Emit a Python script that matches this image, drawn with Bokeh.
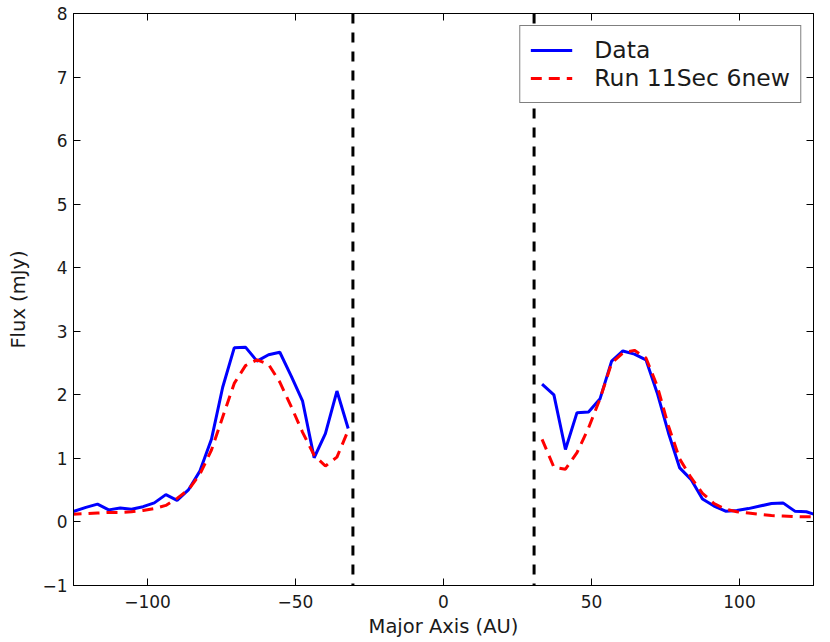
import numpy as np
from bokeh.plotting import figure
from bokeh.models import Range1d, FixedTicker, LinearAxis, Span, Legend, LegendItem
from bokeh.embed import file_html
from bokeh.resources import INLINE

# ---- data ----
x_left = [-126.0, -120.8, -116.9, -113.1, -109.2, -105.4, -101.5, -97.7, -93.8, -90.0,
          -86.1, -82.3, -78.4, -74.6, -70.7, -66.9, -63.0, -59.1, -55.3, -51.4,
          -47.6, -43.7, -39.9, -36.0, -32.2]
blue_left = [0.15, 0.23, 0.28, 0.19, 0.22, 0.20, 0.24, 0.30, 0.43, 0.34,
             0.51, 0.80, 1.30, 2.12, 2.74, 2.75, 2.53, 2.63, 2.67, 2.29,
             1.90, 1.01, 1.39, 2.06, 1.47]
red_left = [0.12, 0.13, 0.14, 0.15, 0.15, 0.16, 0.18, 0.21, 0.26, 0.37,
            0.51, 0.75, 1.13, 1.65, 2.18, 2.46, 2.55, 2.48, 2.20, 1.81,
            1.41, 1.05, 0.88, 1.02, 1.44]

x_right = [33.3, 37.3, 41.2, 45.1, 49.0, 52.9, 56.8, 60.6, 64.5, 68.4,
           72.2, 76.0, 79.8, 83.6, 87.5, 91.4, 95.3, 99.1, 103.0, 106.9,
           110.8, 114.7, 118.7, 122.6, 126.5]
blue_right = [2.17, 2.00, 1.14, 1.72, 1.73, 1.94, 2.53, 2.69, 2.64, 2.55,
              2.03, 1.40, 0.85, 0.67, 0.36, 0.25, 0.17, 0.18, 0.21, 0.25,
              0.29, 0.30, 0.17, 0.16, 0.10]
red_right = [1.30, 0.86, 0.83, 1.09, 1.48, 1.94, 2.50, 2.66, 2.70, 2.58,
             2.14, 1.51, 0.99, 0.70, 0.45, 0.29, 0.20, 0.16, 0.14, 0.12,
             0.10, 0.094, 0.084, 0.08, 0.08]

boundary_x = [-30.6, 30.6]

x_ticks = [-100, -50, 0, 50, 100]
x_tick_labels = ["\u2212100", "\u221250", "0", "50", "100"]
y_ticks = [-1, 0, 1, 2, 3, 4, 5, 6, 7, 8]
y_tick_labels = ["\u22121", "0", "1", "2", "3", "4", "5", "6", "7", "8"]

series_names = ["Data", "Run 11Sec 6new"]

# ---- figure ----
FONT = "DejaVu Sans"
TXT = "#1a1a1a"

p = figure(width=822, height=642, output_backend="svg", toolbar_location=None,
           x_range=Range1d(-125, 125), y_range=Range1d(-1, 8),
           min_border_left=73, min_border_right=9, min_border_top=13, min_border_bottom=57)
p.background_fill_color = "white"
p.border_fill_color = "white"
p.outline_line_color = "black"
p.outline_line_width = 1
p.xgrid.visible = False
p.ygrid.visible = False

nan = [float("nan")]
x_all = x_left + nan + x_right
blue_all = blue_left + nan + blue_right
red_all = red_left + nan + red_right

blue = p.line(x_all, blue_all, line_color="#0000ff", line_width=3)
red = p.line(x_all, red_all, line_color="#ff0000", line_width=3, line_dash="11 7")

for bx in boundary_x:
    p.add_layout(Span(location=bx, dimension="height", line_color="black",
                      line_width=3, line_dash="10 9"))

# axes
xa = p.xaxis[0]
ya = p.yaxis[0]
xa.ticker = FixedTicker(ticks=x_ticks)
ya.ticker = FixedTicker(ticks=y_ticks)
xa.major_label_overrides = {t: l for t, l in zip(x_ticks, x_tick_labels)}
ya.major_label_overrides = {t: l for t, l in zip(y_ticks, y_tick_labels)}
xa.axis_label = "Major Axis (AU)"
ya.axis_label = "Flux (mJy)"
for ax in (xa, ya):
    ax.major_tick_in = 7
    ax.major_tick_out = 0
    ax.minor_tick_in = 0
    ax.minor_tick_out = 0
    ax.major_tick_line_color = "black"
    ax.axis_line_color = "black"
    ax.major_label_text_font = FONT
    ax.major_label_text_font_size = "17px"
    ax.major_label_text_color = TXT
    ax.axis_label_text_font = FONT
    ax.axis_label_text_font_size = "19.5px"
    ax.axis_label_text_font_style = "normal"
    ax.axis_label_text_color = TXT
xa.major_label_standoff = 9
xa.axis_label_standoff = 4
ya.major_label_standoff = 6
ya.axis_label_standoff = 9

# tick-only mirror axes on top and right (classic matplotlib look)
for loc, ticks in (("above", x_ticks), ("right", y_ticks)):
    ax = LinearAxis(ticker=FixedTicker(ticks=ticks),
                    major_label_text_color=None, major_label_text_font_size="1px",
                    major_label_standoff=0,
                    major_tick_in=7, major_tick_out=0,
                    minor_tick_in=0, minor_tick_out=0,
                    axis_line_color="black", major_tick_line_color="black")
    p.add_layout(ax, loc)

legend = Legend(items=[LegendItem(label=series_names[0], renderers=[blue]),
                       LegendItem(label=series_names[1], renderers=[red])],
                location="top_right", margin=12, padding=10, spacing=0,
                glyph_width=42, glyph_height=20, label_standoff=22,
                label_text_font=FONT, label_text_font_size="23.5px",
                label_text_color=TXT, border_line_color="black",
                border_line_width=1.2, background_fill_color="white",
                background_fill_alpha=1.0)
p.add_layout(legend)

open("out.html", "w").write(file_html(p, INLINE))
